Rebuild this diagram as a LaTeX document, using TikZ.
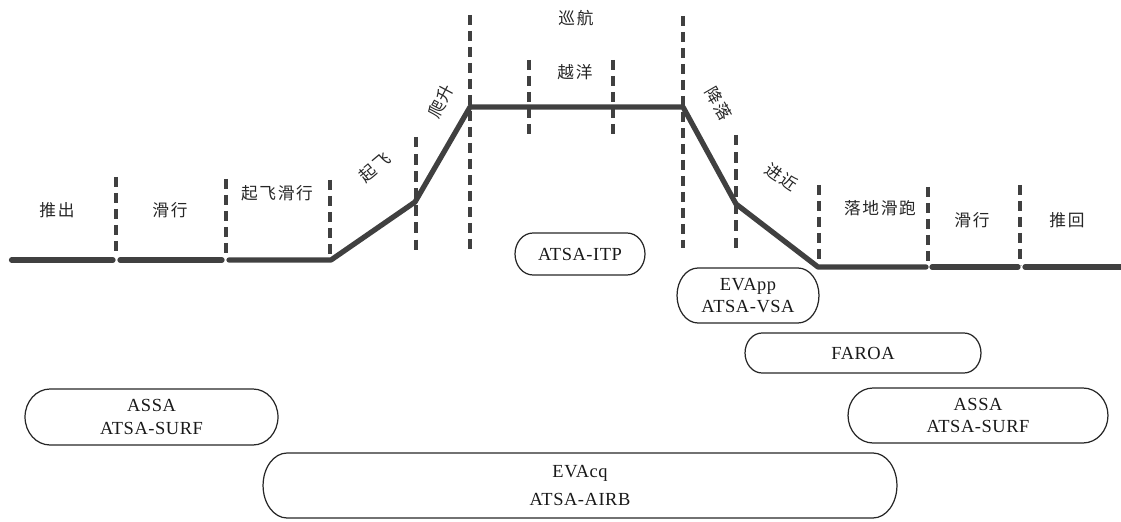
\documentclass[tikz,border=0pt]{standalone}
\usepackage{fontspec}
\setmainfont{Liberation Serif}
\newfontfamily\cjk{Noto Sans CJK SC}[LetterSpace=10]
\newfontfamily\boxfont{Liberation Serif}[LetterSpace=3]
\definecolor{prof}{HTML}{404040}
\newcommand\lanebox[3]{\draw[boxline] ([xshift=#2]#1.north west) -- ([xshift=-#2]#1.north east) arc[start angle=90,end angle=-90,x radius=#2,y radius=#3] -- ([xshift=#2]#1.south west) arc[start angle=270,end angle=90,x radius=#2,y radius=#3] -- cycle;}
\begin{document}
\begin{tikzpicture}[x=0.02cm,y=0.02cm,
  profile/.style={draw=prof,line width=0.105cm,line cap=round,line join=round},
  vdash/.style={draw=prof,line width=0.068cm,dash pattern=on 0.21cm off 0.11cm},
  vdashb/.style={draw=prof,line width=0.068cm,dash pattern=on 0.21cm off 0.132cm},
  phase/.style={font=\cjk\fontsize{9.5}{12}\selectfont,inner sep=0,text=black!85},
  lane/.style={font=\boxfont\fontsize{10.5}{13}\selectfont,align=center,inner sep=0,outer sep=0,text=black!90},
  boxline/.style={draw=black!85,line width=0.7pt}]
\useasboundingbox (0,0) rectangle (1121,521);
% profile points
\coordinate (g1s) at (11.5,261);
\coordinate (g1e) at (113,261);
\coordinate (g2s) at (120,261);
\coordinate (g2e) at (222,261);
\coordinate (g3s) at (229,261);
\coordinate (to) at (331,261);
\coordinate (k1) at (415,319);
\coordinate (top1) at (470,414);
\coordinate (top2) at (683,414);
\coordinate (k2) at (736,317);
\coordinate (ld) at (818,254);
\coordinate (r1e) at (926,254);
\coordinate (r2s) at (932,254);
\coordinate (r2e) at (1018,254);
\coordinate (r3s) at (1025,254);
\coordinate (r3e) at (1123,254);
\draw[profile] (g1s) -- (g1e);
\draw[profile] (g2s) -- (g2e);
\draw[profile] (g3s) -- (to) -- (k1) -- (top1) -- (top2) -- (k2) -- (ld) -- (r1e);
\draw[profile] (r2s) -- (r2e);
\draw[profile] (r3s) -- (r3e);
% dashed separators
\coordinate (d1t) at (116,344); \coordinate (d1b) at (116,265);
\coordinate (d2t) at (226,342); \coordinate (d2b) at (226,266);
\coordinate (d3t) at (330,341); \coordinate (d3b) at (330,263);
\coordinate (d4t) at (416,384); \coordinate (d4b) at (416,271);
\coordinate (d5t) at (470,506); \coordinate (d5b) at (470,271);
\coordinate (d6t) at (529,461); \coordinate (d6b) at (529,386);
\coordinate (d7t) at (613,461); \coordinate (d7b) at (613,384);
\coordinate (d8t) at (683,505); \coordinate (d8b) at (683,273);
\coordinate (d9t) at (736,386); \coordinate (d9b) at (736,273);
\coordinate (d10t) at (819,336); \coordinate (d10b) at (819,257);
\coordinate (d11t) at (928,334); \coordinate (d11b) at (928,255);
\coordinate (d12t) at (1020,336); \coordinate (d12b) at (1020,256);
\foreach \i in {1,2,3,5,6,7,8,10,11,12} {\draw[vdash] (d\i t) -- (d\i b);}
\foreach \i in {4,9} {\draw[vdashb] (d\i t) -- (d\i b);}
% phase labels
\node[phase] (tc) at (57,311) {推出};
\node[phase] (hx1) at (170,311) {滑行};
\node[phase] (qfhx) at (277,328) {起飞滑行};
\node[phase,rotate=40] (qf) at (375,354) {起飞};
\node[phase,rotate=62] (ps) at (441,420) {爬升};
\node[phase] (xh) at (576,503) {巡航};
\node[phase] (yy) at (575,449) {越洋};
\node[phase,rotate=-60] (jl) at (719,417) {降落};
\node[phase,rotate=-35] (jj) at (782,344) {进近};
\node[phase] (ldhp) at (880,313) {落地滑跑};
\node[phase] (hx2) at (972,301) {滑行};
\node[phase] (th) at (1067,301) {推回};
% application boxes
\node[lane,minimum width=2.6cm,minimum height=0.84cm] (itp) at (580,267) {ATSA-ITP};
\lanebox{itp}{0.36cm}{0.42cm}
\node[lane,minimum width=2.84cm,minimum height=1.1cm] (evapp) at (748,225.5) {EVApp\\ATSA-VSA};
\lanebox{evapp}{0.42cm}{0.55cm}
\node[lane,minimum width=4.72cm,minimum height=0.8cm] (faroa) at (863,168) {FAROA};
\lanebox{faroa}{0.34cm}{0.4cm}
\node[lane,minimum width=5.2cm,minimum height=1.1cm] (assar) at (978,105.5) {ASSA\\ATSA-SURF};
\lanebox{assar}{0.5cm}{0.55cm}
\node[lane,minimum width=5.06cm,minimum height=1.12cm] (assal) at (151.5,104) {ASSA\\ATSA-SURF};
\lanebox{assal}{0.5cm}{0.56cm}
\node[lane,font=\boxfont\fontsize{10.5}{15.5}\selectfont,minimum width=12.68cm,minimum height=1.3cm] (evacq) at (580,35.5) {EVAcq\\ATSA-AIRB};
\lanebox{evacq}{0.48cm}{0.65cm}
\end{tikzpicture}
\end{document}
